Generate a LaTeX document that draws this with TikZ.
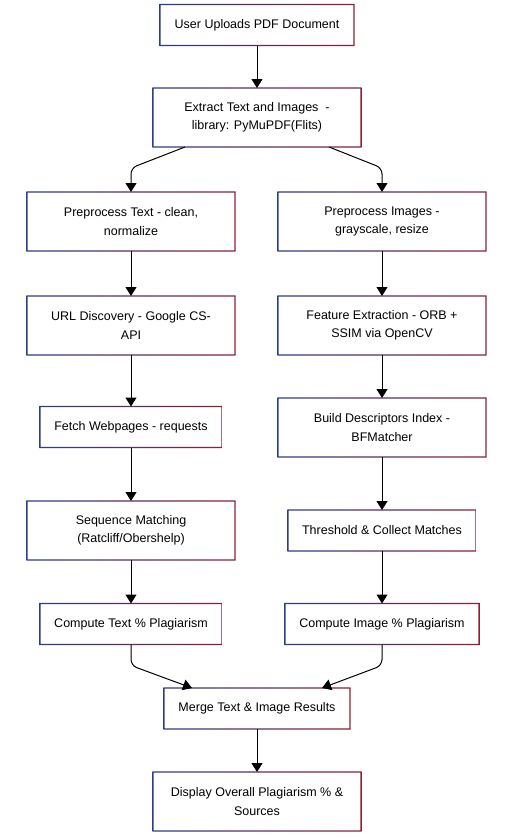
\documentclass[tikz,border=0pt]{standalone}
\usepackage{fontspec}
\setmainfont{Liberation Sans}
\usetikzlibrary{arrows.meta}
\definecolor{edgeblue}{HTML}{2C3E86}
\definecolor{edgered}{HTML}{8A2238}
\tikzset{
    stepbox/.style={rectangle, minimum width=208pt, minimum height=59pt, inner sep=0pt, outer sep=0pt, align=center, font=\fontsize{12.5}{18.5}\selectfont},
    shortbox/.style={stepbox, minimum height=41pt},
    flow/.style={-{Triangle[length=9pt,width=11pt]}, line width=1pt},
}
\begin{document}
\begin{tikzpicture}[x=1pt,y=-1pt]
        \useasboundingbox[fill=white] (0,0) rectangle (527,838);
        \node[shortbox, minimum width=194pt] (upload) at (257,25) {User Uploads PDF Document};
        \node[stepbox] (extract) at (257,117.5) {Extract Text and Images\ \ -\\library: PyMuPDF(Flits)};
        \node[stepbox] (pretext) at (131,221.5) {Preprocess Text - clean,\\normalize};
        \node[stepbox] (preimg) at (382,221.5) {Preprocess Images -\\grayscale, resize};
        \node[stepbox] (url) at (131,325.5) {URL Discovery - Google CS-\\API};
        \node[stepbox] (feature) at (382,325.5) {Feature Extraction - ORB +\\SSIM via OpenCV};
        \node[shortbox, minimum width=182pt] (fetch) at (131,427) {Fetch Webpages - requests};
        \node[stepbox] (index) at (382,427.5) {Build Descriptors Index -\\BFMatcher};
        \node[stepbox] (seq) at (131,530.5) {Sequence Matching\\(Ratcliff/Obershelp)};
        \node[shortbox, minimum width=188pt] (thresh) at (382,530.5) {Threshold \& Collect Matches};
        \node[shortbox, minimum width=182pt] (ctext) at (131,624) {Compute Text \% Plagiarism};
        \node[shortbox, minimum width=194pt] (cimg) at (382,624) {Compute Image \% Plagiarism};
        \node[shortbox, minimum width=186pt] (merge) at (257,708.5) {Merge Text \& Image Results};
        \node[stepbox] (show) at (257,801.5) {Display Overall Plagiarism \% \&\\Sources};
        % shaded frames
        \foreach \n in {upload,extract,pretext,preimg,url,feature,fetch,index,seq,thresh,ctext,cimg,merge,show}{
            \begin{scope}[even odd rule]
                \clip ([shift={(-0.7pt,-0.7pt)}]\n.south west) rectangle ([shift={(0.7pt,0.7pt)}]\n.north east)
                      ([shift={(0.7pt,0.7pt)}]\n.south west) rectangle ([shift={(-0.7pt,-0.7pt)}]\n.north east);
                \shade[left color=edgeblue, right color=edgered] ([shift={(-1pt,-1pt)}]\n.south west) rectangle ([shift={(1pt,1pt)}]\n.north east);
            \end{scope}
        }
        \draw[flow] (upload) -- (extract);
        \draw[flow, rounded corners=6pt] ([xshift=-72pt]extract.south) -- ([yshift=24pt]pretext.north) -- (pretext.north);
        \draw[flow, rounded corners=6pt] ([xshift=72pt]extract.south) -- ([yshift=24pt]preimg.north) -- (preimg.north);
        \draw[flow] (pretext) -- (url);
        \draw[flow] (url) -- (fetch);
        \draw[flow] (fetch) -- (seq);
        \draw[flow] (seq) -- (ctext);
        \draw[flow] (preimg) -- (feature);
        \draw[flow] (feature) -- (index);
        \draw[flow] (index) -- (thresh);
        \draw[flow] (thresh) -- (cimg);
        \draw[flow, rounded corners=6pt] (ctext.south) -- ([yshift=-21pt]ctext.south) -- ([xshift=-65pt]merge.north);
        \draw[flow, rounded corners=6pt] (cimg.south) -- ([yshift=-21pt]cimg.south) -- ([xshift=65pt]merge.north);
        \draw[flow] (merge) -- (show);
    \end{tikzpicture}
\end{document}
